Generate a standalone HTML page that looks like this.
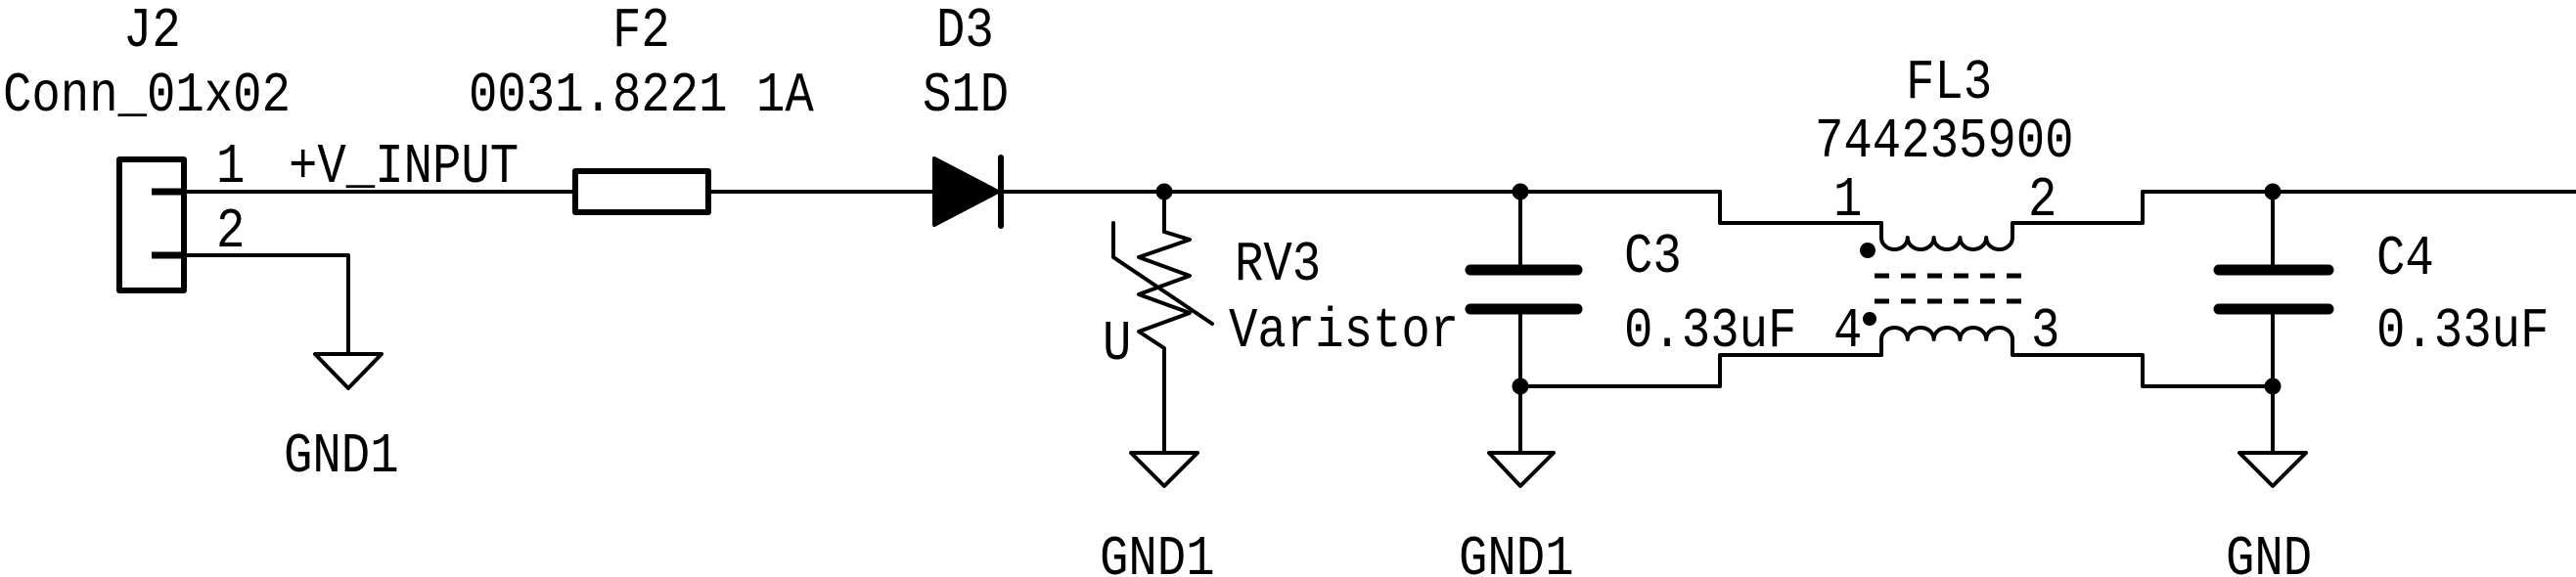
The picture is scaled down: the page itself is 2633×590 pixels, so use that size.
<!DOCTYPE html>
<html><head><meta charset="utf-8"><style>
html,body{margin:0;padding:0;background:#fff;}
svg{display:block;}
text{font-family:"Liberation Mono",monospace;font-size:49px;fill:#000;}
</style></head><body>
<svg width="2633" height="590" viewBox="0 0 2633 590" xmlns="http://www.w3.org/2000/svg">
<g fill="none" stroke="#000" stroke-width="4" stroke-linecap="round" stroke-linejoin="round">
<!-- J2 -->
<rect x="122" y="163" width="66" height="134" stroke-width="6"/>
<line x1="155" y1="196" x2="188" y2="196" stroke-width="7" stroke-linecap="butt"/>
<line x1="155" y1="261" x2="188" y2="261" stroke-width="7" stroke-linecap="butt"/>
<line x1="188" y1="196" x2="587" y2="196"/>
<polyline points="188,261 356,261 356,362"/>
<polygon points="322,362 390,362 356,397"/>
<!-- fuse -->
<rect x="588" y="175" width="136" height="42" stroke-width="6"/>
<line x1="724" y1="196" x2="953" y2="196"/>
<!-- diode -->
<polygon points="955,162 1020,196 955,230" fill="#000"/>
<line x1="1023" y1="161" x2="1023" y2="231" stroke-width="6"/>
<line x1="1023" y1="196" x2="1758" y2="196"/>
<!-- varistor -->
<polyline points="1190,196 1190,237 1216,245 1164,263 1216,282 1164,301 1216,320 1164,339 1190,356 1190,463"/>
<polyline points="1138,228 1138,263 1239,331"/>
<polygon points="1156,463 1224,463 1190,497"/>
<!-- C3 -->
<line x1="1554" y1="196" x2="1554" y2="275"/>
<line x1="1503" y1="276" x2="1612" y2="276" stroke-width="11"/>
<line x1="1503" y1="316" x2="1612" y2="316" stroke-width="11"/>
<line x1="1554" y1="316" x2="1554" y2="463"/>
<polygon points="1522,463 1588,463 1554,497"/>
<polyline points="1554,395 1758,395 1758,363 1923,363"/>
<polyline points="1758,196 1758,228 1923,228"/>
<!-- FL3 coils -->
<path d="M1923,228 L1923,243 A13.4,12 0 0 0 1949.8,243 A13.4,12 0 0 0 1976.6,243 A13.4,12 0 0 0 2003.4,243 A13.4,12 0 0 0 2030.2,243 A13.4,12 0 0 0 2057,243 L2057,228 L2190,228 L2190,196 L2633,196"/>
<path d="M1923,363 L1923,347 A13.4,12 0 0 1 1949.8,347 A13.4,12 0 0 1 1976.6,347 A13.4,12 0 0 1 2003.4,347 A13.4,12 0 0 1 2030.2,347 A13.4,12 0 0 1 2057,347 L2057,363 L2190,363 L2190,395 L2323,395"/>
<line x1="1916" y1="282" x2="2066" y2="282" stroke-dasharray="15,12" stroke-linecap="butt" stroke-width="5"/>
<line x1="1916" y1="308" x2="2066" y2="308" stroke-dasharray="15,12" stroke-linecap="butt" stroke-width="5"/>
<!-- C4 -->
<line x1="2323" y1="196" x2="2323" y2="276"/>
<line x1="2268" y1="276" x2="2380" y2="276" stroke-width="11"/>
<line x1="2268" y1="316" x2="2380" y2="316" stroke-width="11"/>
<line x1="2323" y1="316" x2="2323" y2="463"/>
<polygon points="2289,463 2357,463 2323,497"/>
</g>
<g fill="#000">
<circle cx="1190" cy="196" r="8.5"/>
<circle cx="1554" cy="196" r="8.5"/>
<circle cx="1554" cy="395" r="8.5"/>
<circle cx="2323" cy="196" r="8.5"/>
<circle cx="2323" cy="395" r="8.5"/>
<circle cx="1909" cy="256" r="8"/>
<circle cx="1911" cy="326" r="7"/>
</g>
<g>
<text transform="translate(126,47) scale(1,1.18)">J2</text>
<text transform="translate(3,113) scale(1,1.18)">Conn_01x02</text>
<text transform="translate(221,186) scale(1,1.18)">1</text>
<text transform="translate(221,252) scale(1,1.18)">2</text>
<text transform="translate(295,186) scale(1,1.18)">+V_INPUT</text>
<text transform="translate(290,482) scale(1,1.18)">GND1</text>
<text transform="translate(626,47) scale(1,1.18)">F2</text>
<text transform="translate(479,113) scale(1,1.18)">0031.8221 1A</text>
<text transform="translate(957,47) scale(1,1.18)">D3</text>
<text transform="translate(943,113) scale(1,1.18)">S1D</text>
<text transform="translate(1262,286) scale(1,1.18)">RV3</text>
<text transform="translate(1256,354) scale(1,1.18)">Varistor</text>
<text transform="translate(1127,367) scale(1,1.18)">U</text>
<text transform="translate(1124,587) scale(1,1.18)">GND1</text>
<text transform="translate(1491,587) scale(1,1.18)">GND1</text>
<text transform="translate(1660,278) scale(1,1.18)">C3</text>
<text transform="translate(1660,354) scale(1,1.18)">0.33uF</text>
<text transform="translate(1948,100) scale(1,1.18)">FL3</text>
<text transform="translate(1855,160) scale(1,1.18)">744235900</text>
<text transform="translate(1874,220) scale(1,1.18)">1</text>
<text transform="translate(2073,220) scale(1,1.18)">2</text>
<text transform="translate(1874,354) scale(1,1.18)">4</text>
<text transform="translate(2076,354) scale(1,1.18)">3</text>
<text transform="translate(2429,280) scale(1,1.18)">C4</text>
<text transform="translate(2429,354) scale(1,1.18)">0.33uF</text>
<text transform="translate(2275,587) scale(1,1.18)">GND</text>
</g>
</svg>
</body></html>
